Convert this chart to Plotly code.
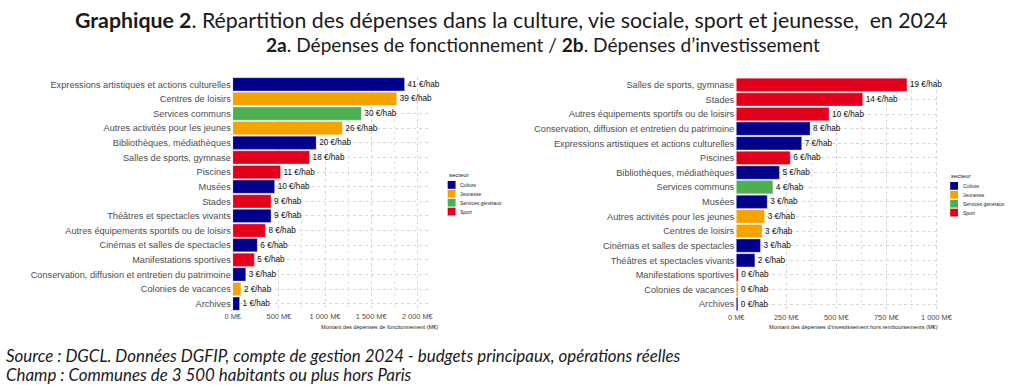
import plotly.graph_objects as go
from plotly.subplots import make_subplots

# ---------------- DATA ----------------
sector_colors = {
    "Culture": "#00008B",
    "Jeunesse": "#F5A300",
    "Services généraux": "#4CAF50",
    "Sport": "#E2001A",
}
sectors = ["Culture", "Jeunesse", "Services généraux", "Sport"]

fonct_categories = [
    "Expressions artistiques et actions culturelles",
    "Centres de loisirs",
    "Services communs",
    "Autres activités pour les jeunes",
    "Bibliothèques, médiathèques",
    "Salles de sports, gymnase",
    "Piscines",
    "Musées",
    "Stades",
    "Théâtres et spectacles vivants",
    "Autres équipements sportifs ou de loisirs",
    "Cinémas et salles de spectacles",
    "Manifestations sportives",
    "Conservation, diffusion et entretien du patrimoine",
    "Colonies de vacances",
    "Archives",
]
fonct_sector = [
    "Culture", "Jeunesse", "Services généraux", "Jeunesse", "Culture", "Sport",
    "Sport", "Culture", "Sport", "Culture", "Sport", "Culture", "Sport",
    "Culture", "Jeunesse", "Culture",
]
fonct_meur = [1862, 1777, 1394, 1188, 904, 833, 518, 454, 415, 415, 354, 266, 234, 141, 88, 74]
fonct_hab = [41, 39, 30, 26, 20, 18, 11, 10, 9, 9, 8, 6, 5, 3, 2, 1]

invest_categories = [
    "Salles de sports, gymnase",
    "Stades",
    "Autres équipements sportifs ou de loisirs",
    "Conservation, diffusion et entretien du patrimoine",
    "Expressions artistiques et actions culturelles",
    "Piscines",
    "Bibliothèques, médiathèques",
    "Services communs",
    "Musées",
    "Autres activités pour les jeunes",
    "Centres de loisirs",
    "Cinémas et salles de spectacles",
    "Théâtres et spectacles vivants",
    "Manifestations sportives",
    "Colonies de vacances",
    "Archives",
]
invest_sector = [
    "Sport", "Sport", "Sport", "Culture", "Culture", "Sport", "Culture",
    "Services généraux", "Culture", "Jeunesse", "Jeunesse", "Culture", "Culture",
    "Sport", "Jeunesse", "Culture",
]
invest_meur = [853, 632, 464, 369, 327, 270, 216, 183, 155, 142, 129, 121, 93, 10, 9, 8]
invest_hab = [19, 14, 10, 8, 7, 6, 5, 4, 3, 3, 3, 3, 2, 0, 0, 0]

fonct_tickvals = [0, 500, 1000, 1500, 2000]
fonct_ticktext = ["0 M€", "500 M€", "1 000 M€", "1 500 M€", "2 000 M€"]
invest_tickvals = [0, 250, 500, 750, 1000]
invest_ticktext = ["0 M€", "250 M€", "500 M€", "750 M€", "1 000 M€"]

title_l1 = "<b>Graphique 2</b>. Répartition des dépenses dans la culture, vie sociale, sport et jeunesse,  en 2024"
title_l2 = "<b>2a</b>. Dépenses de fonctionnement / <b>2b</b>. Dépenses d’investissement"
xtitle_f = "Montant des dépenses de fonctionnement (M€)"
xtitle_i = "Montant des dépenses d’investissement hors remboursements (M€)"
source_l1 = "Source : DGCL. Données DGFIP, compte de gestion 2024 - budgets principaux, opérations réelles"
source_l2 = "Champ : Communes de 3 500 habitants ou plus hors Paris"

# ---------------- FIGURE ----------------
W, H = 1024, 391
def px(x):
    return x / W
def py(y):
    return 1 - y / H

fig = make_subplots(rows=1, cols=2)

LABEL_FONT = "Liberation Sans, Arial, sans-serif"

for col, cats, secs, vals, hab in [
    (1, fonct_categories, fonct_sector, fonct_meur, fonct_hab),
    (2, invest_categories, invest_sector, invest_meur, invest_hab),
]:
    fig.add_trace(
        go.Bar(
            y=cats,
            x=vals,
            orientation="h",
            marker=dict(color=[sector_colors[s] for s in secs],
                        line=dict(color="rgba(255,255,255,0.5)", width=0.6)),
            customdata=hab,
            texttemplate="%{customdata} €/hab",
            textposition="outside",
            constraintext="none",
            cliponaxis=False,
            textfont=dict(size=8.2, color="#111111", family=LABEL_FONT),
            showlegend=False,
            hoverinfo="skip",
        ),
        row=1, col=col,
    )

grid = dict(showgrid=True, gridcolor="#d6d6d6", gridwidth=0.8, griddash="dot")
common_x = dict(zeroline=False, showline=False, ticks="",
                tickfont=dict(size=7.4, color="#4d4d4d", family=LABEL_FONT),
                tickmode="array", **grid)

fig.update_xaxes(domain=[px(229), px(430)], range=[0, 2138],
                 tickvals=fonct_tickvals, ticktext=fonct_ticktext,
                 minor=dict(tickvals=[250, 750, 1250, 1750], showgrid=True,
                            gridcolor="#e4e4e4", griddash="dot", gridwidth=0.6),
                 row=1, col=1, **common_x)
fig.update_xaxes(domain=[px(742), px(950)], range=[0, 1020],
                 tickvals=invest_tickvals, ticktext=invest_ticktext,
                 minor=dict(tickvals=[125, 375, 625, 875], showgrid=True,
                            gridcolor="#e4e4e4", griddash="dot", gridwidth=0.6),
                 row=1, col=2, **common_x)

common_y = dict(autorange="reversed", ticks="", showline=False, zeroline=False,
                tickfont=dict(size=9.2, color="#4d4d4d", family=LABEL_FONT),
                ticklabelstandoff=1, **grid)
fig.update_yaxes(domain=[py(311), py(77)], row=1, col=1, **common_y)
fig.update_yaxes(domain=[py(311.5), py(77.5)], row=1, col=2, **common_y)

annotations = [
    dict(text=title_l1, x=px(513), y=py(20), xref="paper", yref="paper",
         xanchor="center", yanchor="middle", showarrow=False,
         font=dict(family="Lato", size=21.3, color="#1a1a1a")),
    dict(text=title_l2, x=px(545), y=py(45), xref="paper", yref="paper",
         xanchor="center", yanchor="middle", showarrow=False,
         font=dict(family="Lato", size=19.1, color="#1a1a1a")),
    dict(text=f"<i>{source_l1}</i>", x=px(-4), y=py(355), xref="paper", yref="paper",
         xanchor="left", yanchor="middle", showarrow=False,
         font=dict(family="Lato", size=16.9, color="#1a1a1a")),
    dict(text=f"<i>{source_l2}</i>", x=px(-4), y=py(374), xref="paper", yref="paper",
         xanchor="left", yanchor="middle", showarrow=False,
         font=dict(family="Lato", size=16.9, color="#1a1a1a")),
    dict(text=xtitle_f, x=px(440), y=py(327), xref="paper", yref="paper",
         xanchor="right", yanchor="middle", showarrow=False,
         font=dict(family=LABEL_FONT, size=5.6, color="#222222")),
    dict(text=xtitle_i, x=px(950), y=py(327), xref="paper", yref="paper",
         xanchor="right", yanchor="middle", showarrow=False,
         font=dict(family=LABEL_FONT, size=5.6, color="#222222")),
]

shapes = []
# manual legends (ggplot style compact key)
for lx, ly in [(448, 181), (960, 182)]:
    annotations.append(dict(text="secteur", x=px(lx - 1), y=py(ly - 6), xref="paper", yref="paper",
                            xanchor="left", yanchor="middle", showarrow=False,
                            font=dict(family=LABEL_FONT, size=6, color="#222222")))
    for i, s in enumerate(sectors):
        y0 = ly + i * 8.9
        shapes.append(dict(type="rect", xref="paper", yref="paper",
                           x0=px(lx), x1=px(lx + 8), y0=py(y0), y1=py(y0 + 7.8),
                           fillcolor=sector_colors[s], line=dict(width=0)))
        annotations.append(dict(text=s, x=px(lx + 11), y=py(y0 + 3.9), xref="paper", yref="paper",
                                xanchor="left", yanchor="middle", showarrow=False,
                                font=dict(family=LABEL_FONT, size=5, color="#222222")))

fig.update_layout(
    width=W, height=H,
    margin=dict(l=0, r=0, t=0, b=0),
    paper_bgcolor="white", plot_bgcolor="white",
    bargap=0.1,
    annotations=annotations,
    shapes=shapes,
    showlegend=False,
)

fig.write_html("out.html", config={"displayModeBar": False},
               post_script="document.body.style.margin='0';")
